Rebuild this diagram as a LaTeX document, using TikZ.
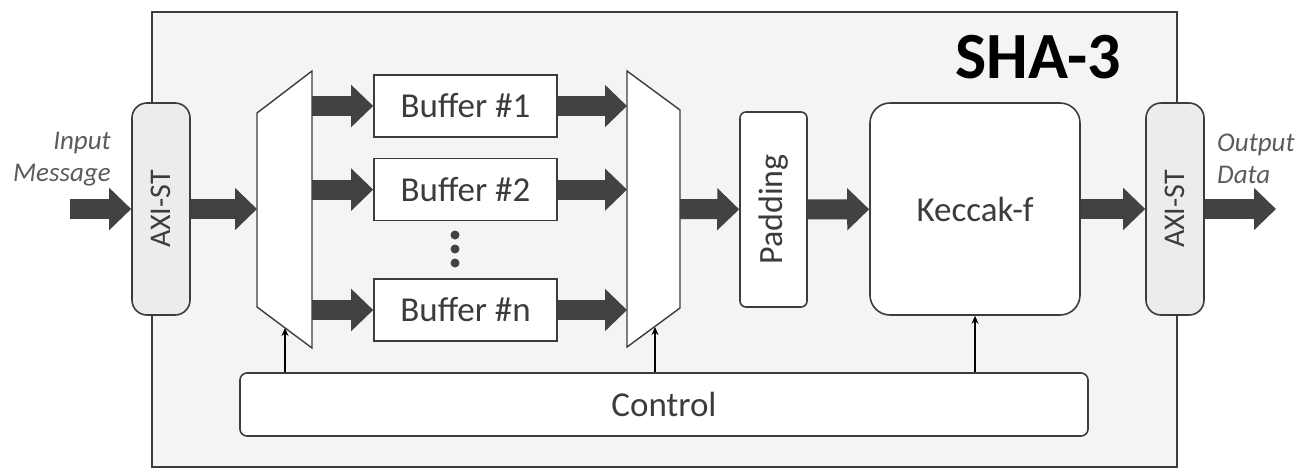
\documentclass[tikz,border=0pt]{standalone}
\usepackage{fontspec}
\setmainfont{Carlito}
\usetikzlibrary{positioning, arrows.meta, calc}
\definecolor{ink}{HTML}{3C3C3C}
\definecolor{fatc}{HTML}{424242}
\definecolor{shabg}{HTML}{F4F4F4}
\definecolor{axibg}{HTML}{ECECEC}
\definecolor{lblc}{HTML}{5C5C5C}

\begin{document}
\begin{tikzpicture}[
    x=1pt, y=-1pt,
    blk/.style={
        rectangle, draw=ink, line width=1.6pt, fill=white, text=ink,
        inner sep=0pt, font=\fontsize{35}{40}\selectfont
    },
    bufbox/.style={blk, minimum width=183pt, minimum height=62pt},
    rbox/.style={blk, rounded corners=#1},
    axibox/.style={blk, rounded corners=15pt, fill=axibg,
        minimum width=58pt, minimum height=212pt},
    axitxt/.style={rotate=90, text=ink, font=\fontsize{30}{34}\selectfont},
    fat/.style={-{Triangle[length=22pt, width=41pt]}, draw=fatc, line width=20pt},
    ctl/.style={-{Stealth[length=8pt, width=7pt]}, draw=black, line width=1.2pt},
    io/.style={font=\fontsize{27}{32}\selectfont\itshape, text=lblc, inner sep=0pt},
    mx/.style={draw=ink, line width=1.4pt, fill=white, line join=miter},
]

\path[use as bounding box, fill=white] (0,0) rectangle (1306,469);

% ---------------------------------------------------------------- outer block
\node (sha) [rectangle, draw=ink, line width=2.4pt, fill=shabg,
    minimum width=1025pt, minimum height=455pt] at (664.5,239.5) {};
\node (title) at (1038,57) [font=\fontsize{66}{70}\selectfont\bfseries, text=black] {SHA-3};

% ---------------------------------------------------------------- stream ports
\node (axiL) [axibox] at (161,209)  {};
\node (axiR) [axibox] at (1175,209) {};
\node [axitxt] at (axiL) {AXI-ST};
\node [axitxt] at (axiR) {AXI-ST};

\node (inlbl)  [io, align=right, anchor=east] at (111,159)  {Input\\Message};
\node (outlbl) [io, align=left,  anchor=west] at (1217,159) {Output\\Data};

\coordinate (msgin)  at (70,209);
\coordinate (dataout) at (1276,209);

% ---------------------------------------------------------------- demux / mux
\draw [mx] (257,113) -- (312,71) -- (312,348) -- (257,307) -- cycle;
\draw [mx] (627,71) -- (680,110) -- (680,308) -- (627,347) -- cycle;

\coordinate (dmxin)  at (257,209);
\coordinate (dmxout) at (312,209);
\coordinate (muxin)  at (627,209);
\coordinate (muxout) at (680,209);
\coordinate (dmxsel) at (285,328);
\coordinate (muxsel) at (655,327);

% ---------------------------------------------------------------- buffers
\node (buf1) [bufbox] at (465.5,106)      {Buffer \#1};
\node (buf2) [bufbox, below=20pt of buf1] {Buffer \#2};
\node (bufn) [bufbox] at (465.5,310)      {Buffer \#n};

\foreach \dy in {235,249,263}
    \fill [fatc] (455,\dy) circle (4.5pt);

% ---------------------------------------------------------------- core
\node (pad) [rbox=6pt, minimum width=67pt, minimum height=195pt] at (773.5,209.5) {};
\node [axitxt, font=\fontsize{34}{38}\selectfont] at (pad) {Padding};
\node (kec) [rbox=20pt, minimum width=210pt, minimum height=212pt] at (975,209) {Keccak-f};

\node (ctrl) [rbox=7pt, minimum width=848pt, minimum height=63pt] at (664,404.5) {Control};

% ---------------------------------------------------------------- data path
\draw [fat] (msgin) -- (axiL);
\draw [fat] (axiL)  -- (dmxin);
\foreach \b in {buf1, buf2, bufn} {
    \draw [fat] (\b.west -| dmxout) -- (\b.west);
    \draw [fat] (\b.east) -- (\b.east -| muxin);
}
\draw [fat] (muxout) -- (pad);
\draw [fat] (pad)    -- (kec);
\draw [fat] (kec)    -- (axiR);
\draw [fat] (axiR)   -- (dataout);

% ---------------------------------------------------------------- control
\draw [ctl] (ctrl.north -| dmxsel) -- (dmxsel);
\draw [ctl] (ctrl.north -| muxsel) -- (muxsel);
\draw [ctl] (ctrl.north -| kec.south) -- (kec.south);

\end{tikzpicture}
\end{document}
